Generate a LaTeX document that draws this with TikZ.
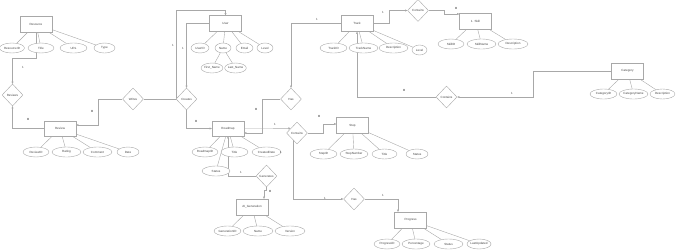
\documentclass[tikz,border=0pt]{standalone}
\usepackage{fontspec}
\setmainfont{Liberation Sans}
\usetikzlibrary{arrows.meta,shapes.geometric,backgrounds}
\definecolor{ink}{HTML}{444444}
\definecolor{line}{HTML}{A8A8A8}
\tikzset{
  font=\fontsize{3}{3.6}\selectfont,
  >={Triangle[length=2.2pt,width=2pt]},
  entity/.style={
    draw=line, line width=0.4pt, fill=white, text=ink,
    inner sep=0pt, minimum width=32pt, minimum height=16pt
  },
  attr/.style={
    ellipse, draw=line, line width=0.4pt, fill=white, text=ink,
    inner sep=0pt, minimum width=27pt, minimum height=10pt
  },
  rel/.style={
    diamond, draw=line, line width=0.4pt, fill=white, text=ink,
    inner sep=0pt, minimum width=21pt, minimum height=22pt
  },
  link/.style={draw=line, line width=0.4pt},
  conn/.style={->, draw=line, line width=0.4pt},
  card/.style={text=ink, inner sep=0pt}
}

\begin{document}
\begin{tikzpicture}[x=1pt,y=-1pt]
  \useasboundingbox (0,0) rectangle (680,250);

  % ---- Entities ----
  \node[entity] (resource) at (36,24)      {Resource};
  \node[entity] (user)     at (225.5,23.5) {User};
  \node[entity] (track)    at (357,23.5)   {Track};
  \node[entity] (skill)    at (475.5,21)   {1. Skill};
  \node[entity] (category) at (627.5,71)   {Category};
  \node[entity, minimum height=15pt] (review)  at (60,128.5)  {Review};
  \node[entity, minimum height=15pt] (roadmap) at (228,128.5) {Roadmap};
  \node[entity] (step)     at (352.5,125.5) {Step};
  \node[entity] (aigen)    at (252,207)    {AI\_Generation};
  \node[entity] (progress) at (410.5,220)  {Progress};

  % ---- Relationships ----
  \node[rel] (reviews)    at (12.5,95)  {Reviews};
  \node[rel] (writes)     at (133,99)   {Writes};
  \node[rel] (creates)    at (186.5,99) {Creates};
  \node[rel] (hasrm)      at (291,99)   {Has};
  \node[rel] (contains)   at (297,133)  {Contains};
  \node[rel] (generates)  at (266.5,176) {Generates};
  \node[rel] (haspg)      at (354,199)  {Has};
  \node[rel] (containssk) at (418,10.5) {Contains};
  \node[rel] (containstr) at (446.5,97) {Contains};

  % ---- Attributes ----
  \node[attr, minimum width=25pt] (resid)    at (12,48)    {ResourceID};
  \node[attr, minimum width=26pt] (restitle) at (41,48)    {Title};
  \node[attr]                     (resurl)   at (73.5,48)  {URL};
  \node[attr, minimum width=21pt] (restype)  at (104.5,48) {Type};

  \node[attr, minimum width=26pt] (revid)      at (36,152)   {ReviewID};
  \node[attr, minimum width=29pt] (revrating)  at (66.5,152) {Rating};
  \node[attr, minimum width=29pt] (revcomment) at (97.5,152) {Comment};
  \node[attr, minimum width=22pt] (revdate)    at (128,152)  {Date};

  \node[attr, minimum width=18pt] (uid)    at (200,48)   {UserID};
  \node[attr, minimum width=16pt] (uname)  at (223,48)   {Name};
  \node[attr, minimum width=17pt] (uemail) at (244.5,48) {Email};
  \node[attr, minimum width=16pt] (ulevel) at (265,48)   {Level};
  \node[attr, minimum width=20pt] (ufirst) at (212,68)   {First\_Name};
  \node[attr, minimum width=19pt] (ulast)  at (235.5,68) {Last\_Name};

  \node[attr]                     (tid)    at (333.5,48) {TrackID};
  \node[attr, minimum width=29pt] (tname)  at (363.5,48) {TrackName};
  \node[attr, minimum width=29pt] (tdesc)  at (393.5,48) {Description};
  \node[attr, minimum width=15pt] (tlevel) at (419.5,50) {Level};

  \node[attr, minimum width=26pt] (sid)   at (451,44)   {SkillID};
  \node[attr, minimum width=29pt] (sname) at (481.5,44) {SkillName};
  \node[attr, minimum width=30pt] (sdesc) at (513,44)   {Description};

  \node[attr]                     (cid)   at (603.5,94) {CategoryID};
  \node[attr, minimum width=29pt] (cname) at (633.5,94) {CategoryName};
  \node[attr, minimum width=25pt] (cdesc) at (662.5,94) {Description};

  \node[attr, minimum width=26pt] (rid)     at (205,152)   {RoadmapID};
  \node[attr]                     (rtitle)  at (234.5,152) {Title};
  \node[attr, minimum width=29pt] (rdate)   at (266.5,152) {CreatedDate};
  \node[attr, minimum width=28pt] (rstatus) at (216,171)   {Status};

  \node[attr]                     (stid)     at (323.5,154) {StepID};
  \node[attr, minimum width=28pt] (stnum)    at (354,154)   {StepNumber};
  \node[attr, minimum width=25pt] (sttitle)  at (384.5,154) {Title};
  \node[attr, minimum width=22pt] (ststatus) at (417,154)   {Status};

  \node[attr]                     (gid)   at (227.5,231) {GenerationID};
  \node[attr, minimum width=30pt] (gname) at (258,231)   {Name};
  \node[attr, minimum width=30pt] (gver)  at (290,231)   {Version};

  \node[attr, minimum width=26pt] (pid)     at (387,244)   {ProgressID};
  \node[attr, minimum width=28pt] (ppct)    at (416,244)   {Percentage};
  \node[attr, minimum width=29pt] (pstatus) at (448.5,244) {Status};
  \node[attr, minimum width=22pt] (pupd)    at (479,244)   {LastUpdated};

  % ---- Cardinalities ----
  \node[card] (k1)  at (23,67)   {1};
  \node[card] (k2)  at (28,119)  {M};
  \node[card] (k3)  at (92,111)  {M};
  \node[card] (k4)  at (173,45)  {1};
  \node[card] (k5)  at (183,48)  {1};
  \node[card] (k6)  at (196,121) {M};
  \node[card] (k7)  at (317,19)  {1};
  \node[card] (k8)  at (256,109) {M};
  \node[card] (k9)  at (275,124) {1};
  \node[card] (k10) at (319,116) {M};
  \node[card] (k11) at (281,152) {1};
  \node[card] (k12) at (325,198) {1};
  \node[card] (k13) at (383,195) {1};
  \node[card] (k14) at (241,172) {1};
  \node[card] (k15) at (270,191) {M};
  \node[card] (k16) at (383,12)  {1};
  \node[card] (k17) at (456,8)   {M};
  \node[card] (k18) at (512,93)  {1};
  \node[card] (k19) at (404,90)  {M};

  \begin{scope}[on background layer]
    % ---- Attribute links ----
    \foreach \a in {resid,restitle,resurl,restype} \draw[link] (resource) -- (\a);
    \foreach \a in {revid,revrating,revcomment,revdate} \draw[link] (review) -- (\a);
    \foreach \a in {uid,uname,uemail,ulevel} \draw[link] (user) -- (\a);
    \draw[link] (uname) -- (ufirst);
    \draw[link] (uname) -- (ulast);
    \foreach \a in {tid,tname,tdesc,tlevel} \draw[link] (track) -- (\a);
    \foreach \a in {sid,sname,sdesc} \draw[link] (skill) -- (\a);
    \foreach \a in {cid,cname,cdesc} \draw[link] (category) -- (\a);
    \foreach \a in {rid,rtitle,rdate,rstatus} \draw[link] (roadmap) -- (\a);
    \foreach \a in {stid,stnum,sttitle,ststatus} \draw[link] (step) -- (\a);
    \foreach \a in {gid,gname,gver} \draw[link] (aigen) -- (\a);
    \foreach \a in {pid,ppct,pstatus,pupd} \draw[link] (progress) -- (\a);

    % ---- Relationship edges ----
    \draw[conn] (resource.south) -- ++(0,26) -| (reviews.north);
    \draw[conn] (review.west) -| (reviews.south);
    \draw[conn] (writes.west) -- ++(-24,0) |- ([yshift=3.5pt]review.east);
    \draw[conn] (writes.east) -- (creates.west) -- ++(0,-89) -| (user.north);
    \draw[conn] (user.west) -| (creates.north);
    \draw[conn] (creates.south) |- (roadmap.west);
    \draw[conn] (track.west) -| (hasrm.north);
    \draw[conn] (hasrm.west) -- ++(-18,0) |- ([yshift=-4.5pt]roadmap.east);
    \draw[conn] (roadmap.east) -- (contains.144);
    \draw[conn] (contains.east) -- ++(15,0) |- ([yshift=1.5pt]step.west);
    \draw[conn] (contains.-120) |- (haspg.west);
    \draw[conn] (haspg.east) -| ([xshift=-12.5pt]progress.north);
    \draw[conn] (generates.west) -| (roadmap.south);
    \draw[conn] (generates.south) -- ++(0,2.5) -| ([xshift=12pt]aigen.north);
    \draw[conn] (track.east) -- ++(16,0) |- (containssk.west);
    \draw[conn] (containssk.east) -- ++(15,0) |- ([yshift=7pt]skill.west);
    \draw[conn] (category.west) -- ++(-78,0) |- (containstr.east);
    \draw[conn] (containstr.west) -| (track.south);
  \end{scope}
\end{tikzpicture}
\end{document}
